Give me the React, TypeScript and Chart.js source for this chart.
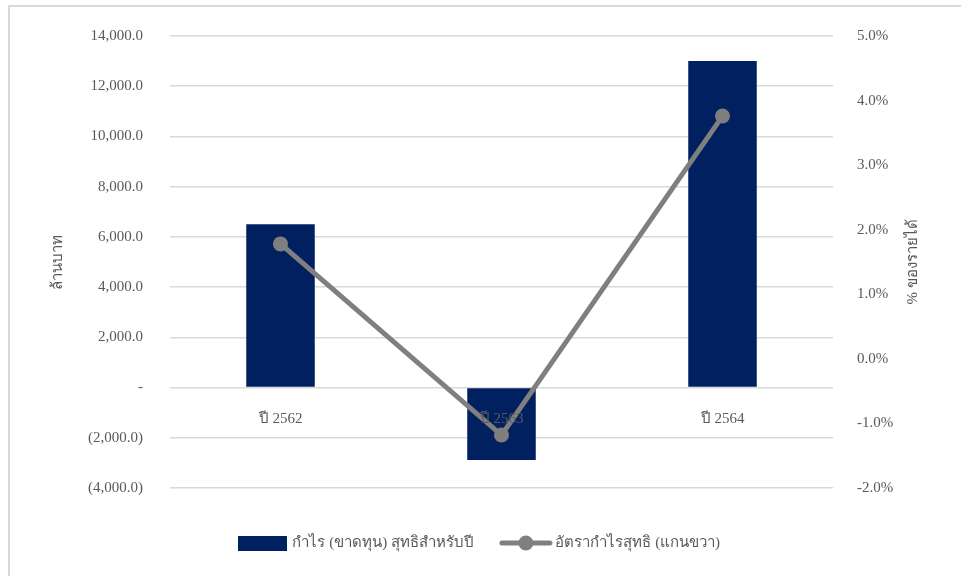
import React, { useEffect, useRef } from "react";
import { Chart, registerables } from "chart.js";

Chart.register(...registerables);

const categories = ["ปี 2562", "ปี 2563", "ปี 2564"];
const profitValues = [6500, -2880, 13000];
const marginValues = [1.78, -1.18, 3.76];
const profitLabel = "กำไร (ขาดทุน) สุทธิสำหรับปี";
const marginLabel = "อัตรากำไรสุทธิ (แกนขวา)";
const leftAxisTitle = "ล้านบาท";
const rightAxisTitle = "% ของรายได้";

const FONT = "'Liberation Serif', 'Times New Roman', serif";
const TEXT = "#595959";
const BAR = "#002060";
const LINE = "#7f7f7f";
const GRID = "#d9d9d9";

function fmtNum(v: number) {
  return v.toLocaleString("en-US", { minimumFractionDigits: 1, maximumFractionDigits: 1 });
}

const rightTitlePlugin = {
  id: "rightTitle",
  afterDraw(chart: any) {
    const s = chart.scales.y1;
    if (!s) return;
    const ctx = chart.ctx;
    ctx.save();
    ctx.translate(s.right - 9 - 39, (s.top + s.bottom) / 2);
    ctx.rotate(-Math.PI / 2);
    ctx.textAlign = "center";
    ctx.textBaseline = "middle";
    ctx.font = `15px ${FONT}`;
    ctx.fillStyle = TEXT;
    ctx.fillText(rightAxisTitle, 0, 0);
    ctx.restore();
  },
};

export default function App() {
  const ref = useRef<HTMLCanvasElement | null>(null);

  useEffect(() => {
    if (!ref.current) return;

    const barImg = document.createElement("canvas");
    barImg.width = 49;
    barImg.height = 15;
    const bctx = barImg.getContext("2d")!;
    bctx.fillStyle = BAR;
    bctx.fillRect(0, 0, 49, 15);

    const lineImg = document.createElement("canvas");
    lineImg.width = 54;
    lineImg.height = 16;
    const lctx = lineImg.getContext("2d")!;
    lctx.strokeStyle = LINE;
    lctx.lineWidth = 5;
    lctx.lineCap = "round";
    lctx.beginPath();
    lctx.moveTo(3, 8);
    lctx.lineTo(51, 8);
    lctx.stroke();
    lctx.fillStyle = LINE;
    lctx.beginPath();
    lctx.arc(27, 8, 7.5, 0, Math.PI * 2);
    lctx.fill();

    const chart = new Chart(ref.current, {
      type: "bar",
      data: {
        labels: categories,
        datasets: [
          {
            type: "bar",
            label: profitLabel,
            data: profitValues,
            backgroundColor: BAR,
            borderWidth: 0,
            barPercentage: 0.31,
            categoryPercentage: 1,
            yAxisID: "y",
            order: 2,
          },
          {
            type: "line",
            label: marginLabel,
            data: marginValues,
            borderColor: LINE,
            backgroundColor: LINE,
            borderWidth: 5,
            pointRadius: 7.5,
            pointBackgroundColor: LINE,
            pointBorderWidth: 0,
            tension: 0,
            yAxisID: "y1",
            order: 1,
          } as any,
        ],
      },
      plugins: [rightTitlePlugin],
      options: {
        animation: false,
        responsive: false,
        maintainAspectRatio: false,
        layout: { padding: { top: 35, left: 0, right: 0, bottom: 15.5 } },
        font: { family: FONT },
        plugins: {
          tooltip: { enabled: false },
          legend: {
            position: "bottom",
            title: { display: true, text: "", padding: { top: 5.5, bottom: 0 }, font: { size: 10, lineHeight: 1.2 } },
            labels: {
              usePointStyle: true,
              pointStyleWidth: 44,
              padding: 30,
              color: TEXT,
              font: { family: FONT, size: 15 },
              generateLabels: () => [
                {
                  text: profitLabel,
                  fillStyle: BAR,
                  strokeStyle: BAR,
                  lineWidth: 0,
                  pointStyle: barImg as any,
                  hidden: false,
                  datasetIndex: 0,
                  fontColor: TEXT,
                },
                {
                  text: marginLabel,
                  fillStyle: LINE,
                  strokeStyle: LINE,
                  lineWidth: 0,
                  pointStyle: lineImg as any,
                  hidden: false,
                  datasetIndex: 1,
                  fontColor: TEXT,
                },
              ],
            },
          },
        },
        scales: {
          x: {
            position: { y: 0 } as any,
            grid: { display: false, drawTicks: false },
            border: { display: false },
            ticks: { color: TEXT, font: { family: FONT, size: 15 }, padding: 23, z: 1 },
          },
          y: {
            position: "left",
            min: -4000,
            max: 14000,
            afterFit: (s: any) => {
              s.width = 170;
            },
            ticks: {
              stepSize: 2000,
              color: TEXT,
              padding: 27,
              font: { family: FONT, size: 15 },
              callback: (v: any) => {
                const n = Number(v);
                if (n === 0) return "-";
                if (n < 0) return "(" + fmtNum(-n) + ")";
                return fmtNum(n);
              },
            },
            grid: { color: GRID, lineWidth: 1.5, drawTicks: false },
            border: { display: false },
            title: {
              display: true,
              text: leftAxisTitle,
              color: TEXT,
              font: { family: FONT, size: 15 },
              padding: { top: 49, bottom: 0 },
            },
          },
          y1: {
            position: "right",
            min: -2,
            max: 5,
            afterFit: (s: any) => {
              s.width = 128;
            },
            ticks: {
              stepSize: 1,
              color: TEXT,
              padding: 24,
              font: { family: FONT, size: 15 },
              callback: (v: any) => Number(v).toFixed(1) + "%",
            },
            grid: { display: false, drawTicks: false },
            border: { display: false },
            title: { display: false },
          },
        },
      } as any,
    });

    return () => chart.destroy();
  }, []);

  return (
    <div style={{ position: "fixed", left: 0, top: 0, width: 961, height: 576, overflow: "hidden", background: "#fff" }}>
      <div
        style={{
          position: "absolute",
          left: 8,
          top: 5,
          width: 1000,
          height: 1000,
          borderLeft: `2px solid ${GRID}`,
          borderTop: `2px solid ${GRID}`,
        }}
      />
      <canvas ref={ref} width={961} height={576} style={{ position: "absolute", left: 0, top: 0, width: 961, height: 576 }} />
    </div>
  );
}
